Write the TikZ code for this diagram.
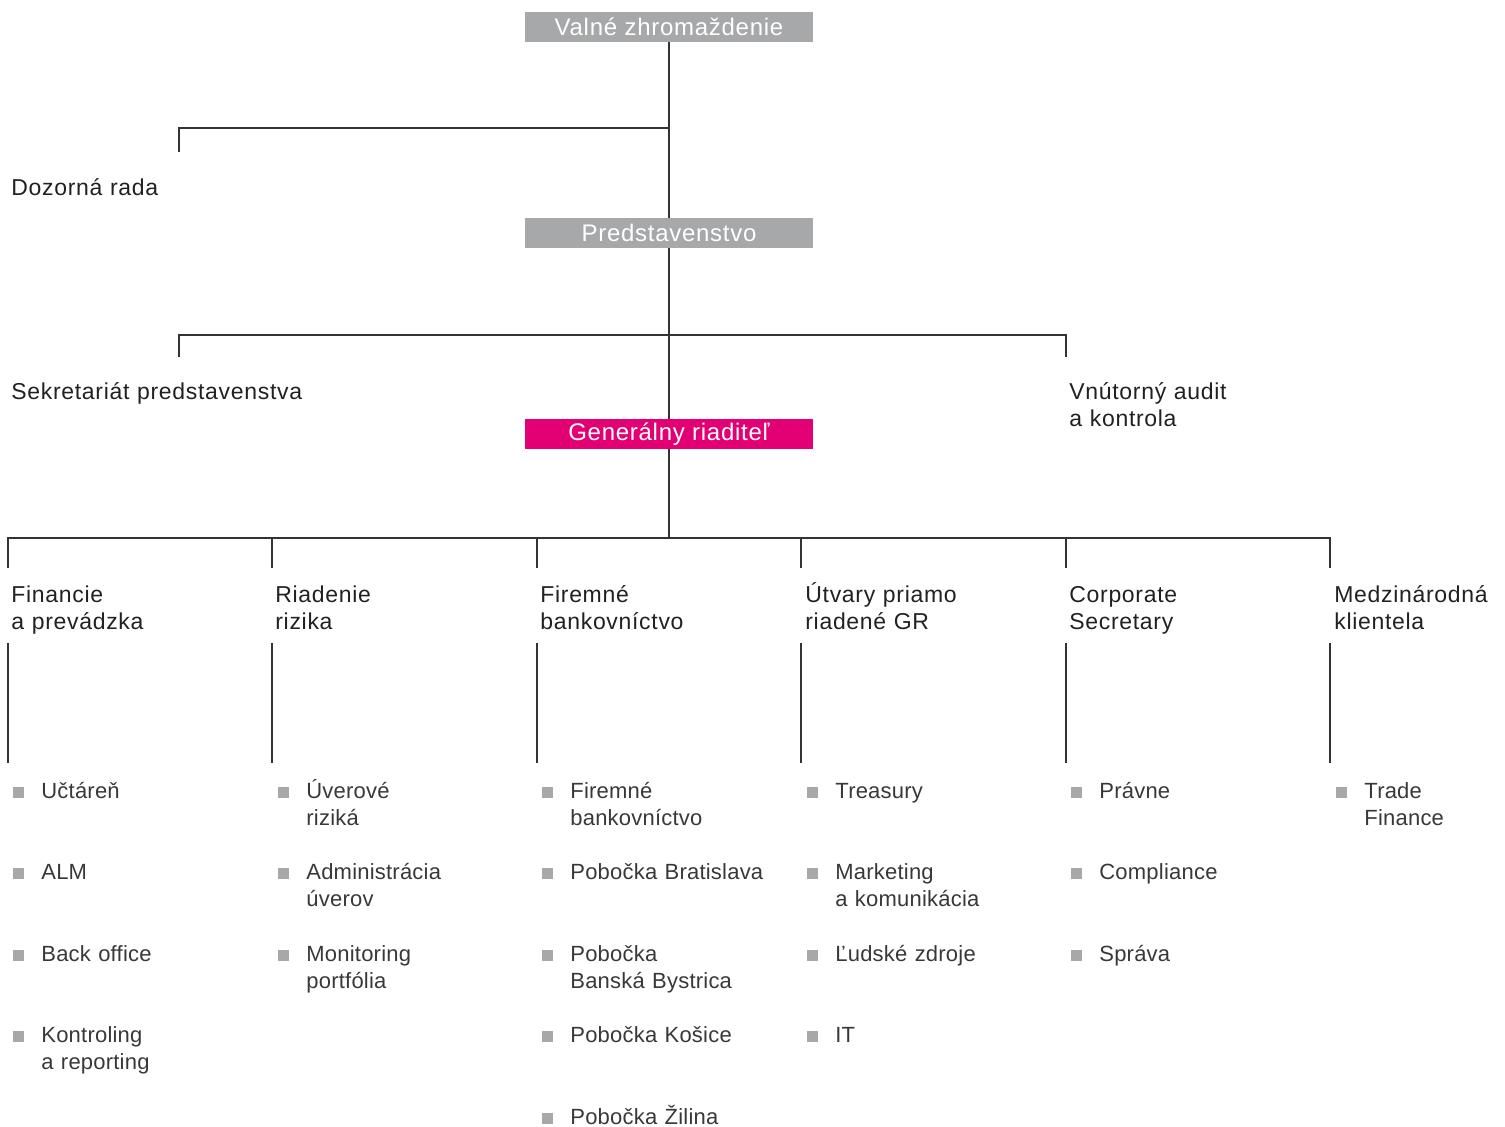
\documentclass[tikz,border=0pt]{standalone}
\usepackage{fontspec}
\setmainfont{Liberation Sans}
\newfontfamily\boxfont[LetterSpace=3]{Liberation Sans}
\newfontfamily\headfont[LetterSpace=3]{Liberation Sans}
\newfontfamily\itemfont[LetterSpace=1]{Liberation Sans}
\definecolor{boxgray}{HTML}{A7A8AA}
\definecolor{tmagenta}{HTML}{E20074}
\begin{document}
\begin{tikzpicture}[x=0.5pt,y=-0.5pt,
	line/.style={draw=black!80,line width=0.75pt},
	box/.style={fill=boxgray,text=white,minimum width=144pt,minimum height=15pt,inner sep=0pt,
		font=\boxfont\fontsize{12}{14}\selectfont},
	head/.style={anchor=base west,align=left,text width=150pt,inner sep=0pt,text=black!87,
		font=\headfont\fontsize{11.5}{13.5}\selectfont},
	item/.style={anchor=base west,align=left,text width=100pt,inner sep=0pt,text=black!78,
		font=\itemfont\fontsize{11}{13.5}\selectfont},
	sq/.style={fill=boxgray,minimum size=5.5pt,inner sep=0pt,anchor=south}]
\useasboundingbox (0,0) rectangle (1505,1126);

\node[box] (vz) at (669,27) {Valné zhromaždenie};
\node[box] (pr) at (669,233) {Predstavenstvo};
\node[box,fill=tmagenta] (gr) at (669,434) {Generálny riaditeľ};

\node[head] (dr) at (11,195) {Dozorná rada};
\node[head] (sp) at (11,399) {Sekretariát predstavenstva};
\node[head] (va) at (1069,399) {Vnútorný audit\\a kontrola};

\coordinate (j1) at (669,128);
\coordinate (drt) at (179,152);
\coordinate (spt) at (179,357);
\coordinate (vat) at (1066,357);
\coordinate (j3) at (669,538);

\draw[line] (vz) -- (pr);
\draw[line] (drt) |- (j1);
\draw[line] (pr) -- (gr);
\draw[line] (spt) -- ++(0,-22) -| (vat);
\draw[line] (gr) -- (j3);

\foreach \x [count=\i] in {8,272,537,801,1066,1330} {
	\coordinate (t\i) at (\x,568);
	\coordinate (u\i) at (\x,643);
	\coordinate (b\i) at (\x,763);
	\draw[line] (u\i) -- (b\i);
}
\draw[line] (t1) -- ++(0,-30) -| (t6);
\foreach \i in {2,...,5}
	\draw[line] (t\i) -- ++(0,-30);

\node[head] (h1) at (11,602) {Financie\\a prevádzka};
\node[head] (h2) at (275,602) {Riadenie\\rizika};
\node[head] (h3) at (540,602) {Firemné\\bankovníctvo};
\node[head] (h4) at (805,602) {Útvary priamo\\riadené GR};
\node[head] (h5) at (1069,602) {Corporate\\Secretary};
\node[head] (h6) at (1334,602) {Medzinárodná\\klientela};

\foreach \t [count=\j] in {Učtáreň, ALM, Back office, {Kontroling\\a reporting}} {
	\node[item] (a\j) at (41,{798+81.5*(\j-1)}) {\t};
	\node[sq] (sa\j) at ([xshift=-11.25pt]a\j.base west) {};
}
\foreach \t [count=\j] in {{Úverové\\riziká}, {Administrácia\\úverov}, {Monitoring\\portfólia}} {
	\node[item] (b\j) at (306,{798+81.5*(\j-1)}) {\t};
	\node[sq] (sb\j) at ([xshift=-11.25pt]b\j.base west) {};
}
\foreach \t [count=\j] in {{Firemné\\bankovníctvo}, Pobočka Bratislava, {Pobočka\\Banská Bystrica}, Pobočka Košice, Pobočka Žilina} {
	\node[item] (c\j) at (570,{798+81.5*(\j-1)}) {\t};
	\node[sq] (sc\j) at ([xshift=-11.25pt]c\j.base west) {};
}
\foreach \t [count=\j] in {Treasury, {Marketing\\a komunikácia}, Ľudské zdroje, IT} {
	\node[item] (d\j) at (835,{798+81.5*(\j-1)}) {\t};
	\node[sq] (sd\j) at ([xshift=-11.25pt]d\j.base west) {};
}
\foreach \t [count=\j] in {Právne, Compliance, Správa} {
	\node[item] (e\j) at (1099,{798+81.5*(\j-1)}) {\t};
	\node[sq] (se\j) at ([xshift=-11.25pt]e\j.base west) {};
}
\foreach \t [count=\j] in {{Trade\\Finance}} {
	\node[item] (f\j) at (1364,{798+81.5*(\j-1)}) {\t};
	\node[sq] (sf\j) at ([xshift=-11.25pt]f\j.base west) {};
}
\end{tikzpicture}
\end{document}
